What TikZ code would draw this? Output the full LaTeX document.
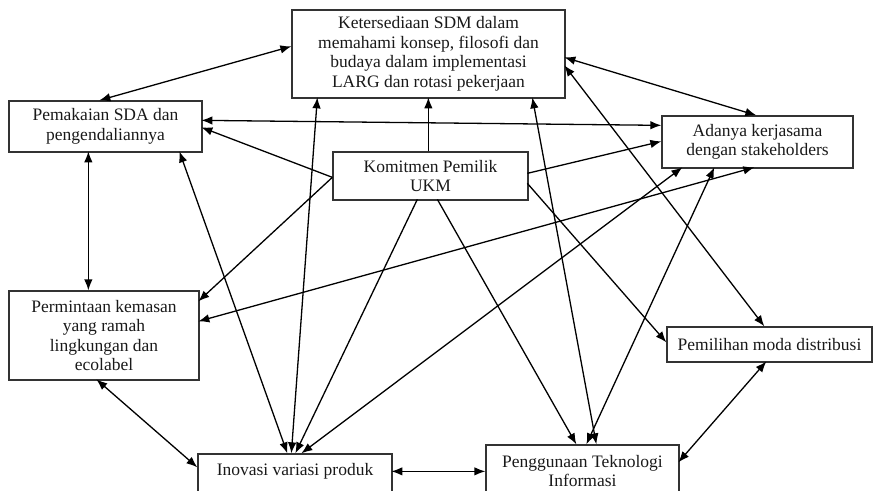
\documentclass[tikz,border=0pt]{standalone}
\usepackage{fontspec}
\setmainfont{Liberation Serif}
\usetikzlibrary{arrows.meta,calc}

\begin{document}
\begin{tikzpicture}[x=1pt,y=-1pt,
  box/.style={draw=black!80,line width=1.3pt,rectangle,inner sep=0pt,align=center,
    font=\fontsize{17.5}{19.5}\selectfont,text=black!90},
  txt/.style={inner sep=0pt,align=center,font=\fontsize{17.5}{19.5}\selectfont,text=black!90},
  link/.style={line width=1.3pt,black},
  uni/.style={link,-{Latex[length=11pt,width=8.5pt]}},
  bi/.style={link,{Latex[length=11pt,width=8.5pt]}-{Latex[length=11pt,width=8.5pt]}}]

\useasboundingbox (0,0) rectangle (874,490);
\clip (0,0) rectangle (874,490);

% boxes
\node[box,minimum width=273pt,minimum height=88pt] (sdm) at (428.5,54)
  {Ketersediaan SDM dalam\\memahami konsep, filosofi dan\\budaya dalam implementasi\\LARG dan rotasi pekerjaan};
\node[box,minimum width=193pt,minimum height=51pt] (sda) at (105.5,126.5)
  {Pemakaian SDA dan\\pengendaliannya};
\node[box,minimum width=191pt,minimum height=52pt] (mitra) at (757.5,142)
  {Adanya kerjasama\\dengan stakeholders};
\node[box,minimum width=195pt,minimum height=48pt] (ukm) at (430.5,176)
  {Komitmen Pemilik\\UKM};
\node[box,minimum width=190pt,minimum height=89pt] (kemasan) at (104,335.5)
  {Permintaan kemasan\\yang ramah\\lingkungan dan\\ecolabel};
\node[box,minimum width=205pt,minimum height=35pt] (moda) at (769.5,344.5)
  {Pemilihan moda distribusi};
\node[box,minimum width=194pt,minimum height=46pt] (inovasi) at (295,477) {};
\node[txt] (inovasiText) at (295,471) {Inovasi variasi produk};
\node[box,minimum width=193pt,minimum height=55pt] (ti) at (582.5,472.5) {};
\node[txt] (tiText) at (582.5,471) {Penggunaan Teknologi\\Informasi};

% connectors
\draw[bi]  ($(sda.north west)+(91,0)$) -- ($(sdm.north west)+(0,37)$);
\draw[bi]  ($(sda.north west)+(193,20)$) -- ($(mitra.north west)+(0,10)$);
\draw[uni] ($(ukm.north west)+(0,26)$) -- ($(sda.north west)+(193,27)$);
\draw[uni] ($(ukm.north west)+(96,0)$) -- ($(sdm.north west)+(137,88)$);
\draw[bi]  ($(sdm.north west)+(273,48)$) -- ($(mitra.north west)+(95,0)$);
\draw[uni] ($(ukm.north west)+(195,22)$) -- ($(mitra.north west)+(0,26)$);
\draw[bi]  ($(sda.north west)+(80,51)$) -- ($(kemasan.north west)+(80,0)$);
\draw[uni] ($(ukm.north west)+(0,26)$) -- ($(kemasan.north west)+(190,11)$);
\draw[bi]  ($(mitra.north west)+(93,52)$) -- ($(kemasan.north west)+(190,31)$);
\draw[bi]  ($(kemasan.north west)+(88,89)$) -- ($(inovasi.north west)+(0,14)$);
\draw[bi]  ($(sda.north west)+(171,51)$) -- ($(inovasi.north west)+(90,0)$);
\draw[bi]  ($(sdm.north west)+(26,88)$) -- ($(inovasi.north west)+(94,0)$);
\draw[uni] ($(ukm.north west)+(85,48)$) -- ($(inovasi.north west)+(98,0)$);
\draw[uni] ($(ukm.north west)+(105,48)$) -- ($(ti.north west)+(91,0)$);
\draw[uni] ($(ukm.north west)+(195,32)$) -- ($(moda.north west)+(0,16)$);
\draw[bi]  ($(sdm.north west)+(273,56)$) -- ($(moda.north west)+(98,0)$);
\draw[bi]  ($(sdm.north west)+(241,88)$) -- ($(ti.north west)+(111,0)$);
\draw[bi]  ($(inovasi.north west)+(104,0)$) -- ($(mitra.north west)+(21,52)$);
\draw[bi]  ($(ti.north west)+(101,0)$) -- ($(mitra.north west)+(53,52)$);
\draw[bi]  ($(ti.north west)+(193,18)$) -- ($(moda.north west)+(100,35)$);
\draw[bi]  ($(inovasi.north west)+(194,18)$) -- ($(ti.north west)+(0,27)$);
\end{tikzpicture}
\end{document}
